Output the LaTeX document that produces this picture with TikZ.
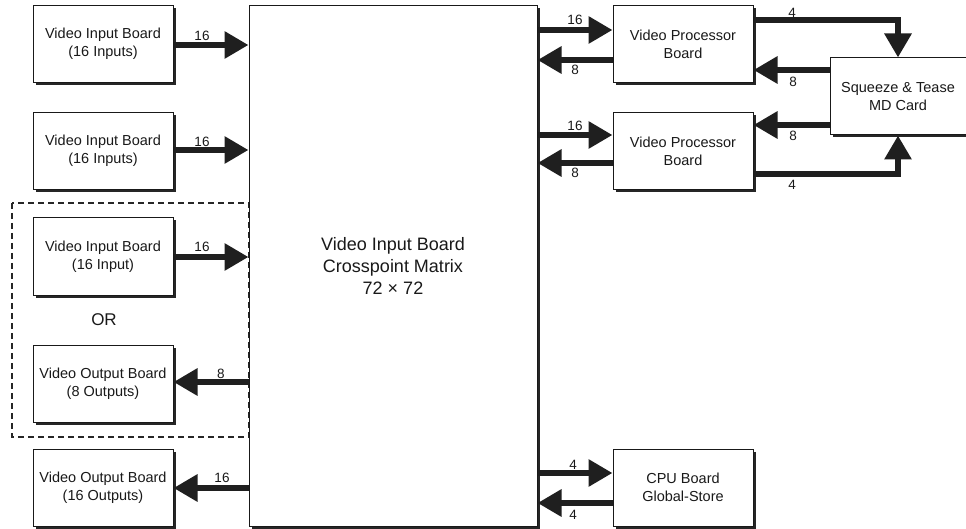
\documentclass[tikz,border=0pt]{standalone}
\usepackage{fontspec}
\setmainfont{Liberation Sans}
\usetikzlibrary{arrows.meta,shadows}
\begin{document}
\begin{tikzpicture}[x=1pt,y=-1pt,
  board/.style={draw=black!90, line width=1pt, fill=white, text=black!90,
    minimum width=140pt, minimum height=77pt, align=center, inner sep=0pt,
    font=\fontsize{14.5}{18}\selectfont,
    drop shadow={shadow xshift=2.5pt, shadow yshift=-2.5pt, fill=black!85, opacity=1}},
  big/.style={line width=6pt, draw=black!88, -{Triangle[length=24pt,width=26pt]}},
  lab/.style={font=\fontsize{13.5}{15}\selectfont, inner sep=0pt, text=black!90}]
\useasboundingbox (0,0) rectangle (966,529);

% dashed group
\draw[line width=1.5pt, dash pattern=on 6pt off 4pt, draw=black!85] (12,203) rectangle (249,437);

% main matrix
\node[board, minimum width=288pt, minimum height=520pt, font=\fontsize{18}{22}\selectfont]
  (mx) at (393,266) {Video Input Board\\Crosspoint Matrix\\72 × 72};

% left boards
\node[board] (in1) at (103,44) {Video Input Board\\(16 Inputs)};
\node[board] (in2) at (103,151) {Video Input Board\\(16 Inputs)};
\node[board] (in3) at (103,256.5) {Video Input Board\\(16 Input)};
\node[font=\fontsize{17}{20}\selectfont, text=black!90] (or) at (104,320) {OR};
\node[board] (out8) at (103,383.5) {Video Output Board\\(8 Outputs)};
\node[board] (out16) at (103,487.5) {Video Output Board\\(16 Outputs)};

% right boards
\node[board] (vp1) at (683,44) {Video Processor\\Board};
\node[board] (vp2) at (683,151) {Video Processor\\Board};
\node[board, minimum width=136pt] (sq) at (898,96.5) {Squeeze \& Tease\\MD Card};
\node[board] (cpu) at (683,487.5) {CPU Board\\Global-Store};

% left arrows
\draw[big] (in1.east |- 0,45) -- (mx.west |- 0,45);
\node[lab] (l1) at (202,36) {16};
\draw[big] (in2.east |- 0,150) -- (mx.west |- 0,150);
\node[lab] (l2) at (202,142) {16};
\draw[big] (in3.east |- 0,257) -- (mx.west |- 0,257);
\node[lab] (l3) at (202,247) {16};
\draw[big] (mx.west |- 0,382) -- (out8.east |- 0,382);
\node[lab] (l4) at (221,374) {8};
\draw[big] (mx.west |- 0,488) -- (out16.east |- 0,488);
\node[lab] (l5) at (222,478) {16};

% right arrows: matrix <-> processors
\draw[big] (mx.east |- 0,30) -- (vp1.west |- 0,30);
\node[lab] (r1) at (575,20) {16};
\draw[big] (vp1.west |- 0,60) -- (mx.east |- 0,60);
\node[lab] (r2) at (575,70) {8};
\draw[big] (mx.east |- 0,135) -- (vp2.west |- 0,135);
\node[lab] (r3) at (575,126) {16};
\draw[big] (vp2.west |- 0,163) -- (mx.east |- 0,163);
\node[lab] (r4) at (575,173) {8};

% processors <-> squeeze
\draw[big] (vp1.east |- 0,20) -| (sq.north);
\node[lab] (s1) at (792,13) {4};
\draw[big] (sq.west |- 0,70) -- (vp1.east |- 0,70);
\node[lab] (s2) at (793,82) {8};
\draw[big] (sq.west |- 0,125) -- (vp2.east |- 0,125);
\node[lab] (s3) at (793,136) {8};
\draw[big] (vp2.east |- 0,174) -| (sq.south);
\node[lab] (s4) at (792,185) {4};

% cpu
\draw[big] (mx.east |- 0,473) -- (cpu.west |- 0,473);
\node[lab] (c1) at (573,465) {4};
\draw[big] (cpu.west |- 0,503) -- (mx.east |- 0,503);
\node[lab] (c2) at (573,515) {4};
\end{tikzpicture}
\end{document}
